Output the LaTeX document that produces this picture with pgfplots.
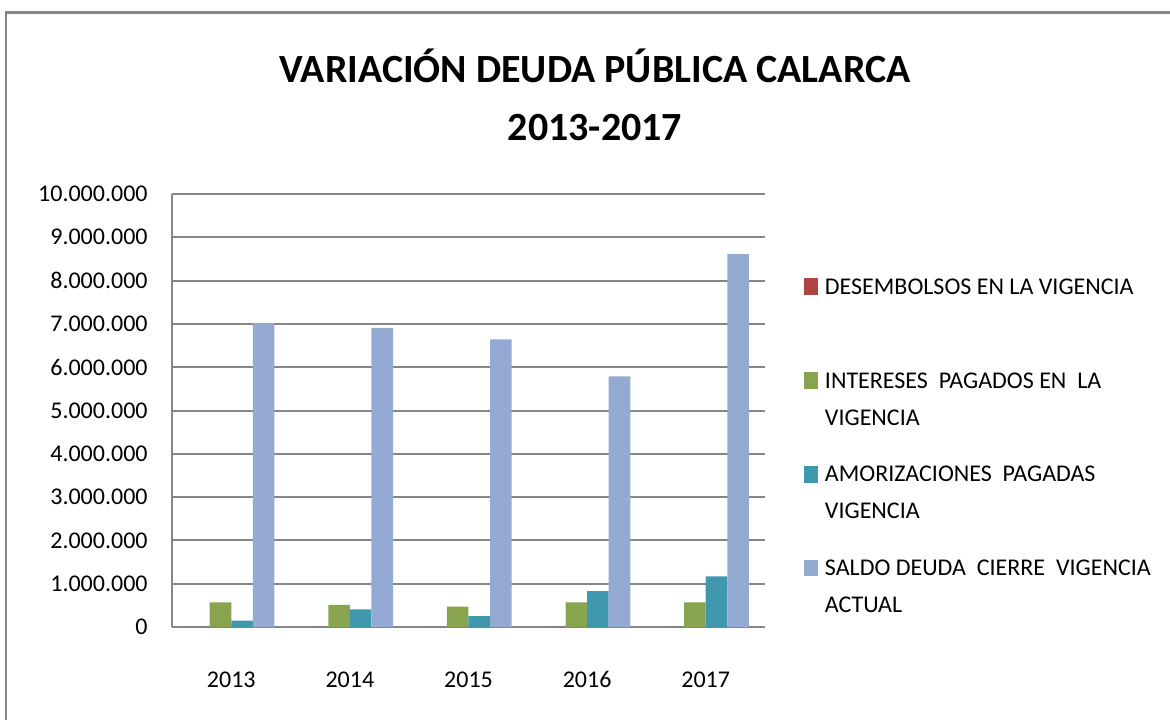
\documentclass[border=0pt]{standalone}
\usepackage{fontspec}
\setmainfont{Carlito}
\usepackage{pgfplots}
\pgfplotsset{compat=1.18}
\definecolor{cRed}{RGB}{176,68,64}
\definecolor{cGreen}{RGB}{137,164,78}
\definecolor{cTeal}{RGB}{64,152,175}
\definecolor{cBlue}{RGB}{149,170,210}
\definecolor{cGrid}{RGB}{134,134,134}
\begin{document}
\begin{tikzpicture}
\path[use as bounding box] (-86pt,-46pt) rectangle (499pt,313.5pt);
\draw[cGrid, line width=1.3pt] (-83pt,-60pt) -- (-83pt,307.25pt) -- (510pt,307.25pt);
\begin{axis}[
  at={(0pt,0pt)}, anchor=south west,
  scale only axis, width=296.5pt, height=216.5pt,
  ybar=0pt, bar width=0.182,
  xmin=-0.5, xmax=4.5, ymin=0, ymax=10000000,
  xtick=data, xticklabels={2013,2014,2015,2016,2017},
  ytick={0,1000000,2000000,3000000,4000000,5000000,6000000,7000000,8000000,9000000,10000000},
  scaled y ticks=false,
  y tick label style={/pgf/number format/fixed, /pgf/number format/precision=0, /pgf/number format/1000 sep={.}, /pgf/number format/assume math mode=true},
  tick label style={font=\fontsize{12}{14}\selectfont},
  yticklabel style={inner sep=0pt, anchor=east, xshift=-12pt},
  xticklabel style={inner sep=0pt, anchor=base, yshift=-30pt},
  major tick length=0pt,
  axis x line*=bottom, axis y line*=left,
  axis line style={cGrid, line width=1.2pt, -},
  ymajorgrids, grid style={cGrid, line width=1pt},
  title={VARIACIÓN DEUDA PÚBLICA CALARCA\\2013-2017},
  title style={at={(0.7133,1.2009)}, anchor=center, align=center, font=\fontsize{20}{29}\selectfont\bfseries, inner sep=0pt},
  legend image code/.code={\fill[#1] (0pt,-0.3pt) rectangle (7pt,8pt);},
  legend style={draw=none, fill=none, inner sep=0pt, outer sep=0pt, at={(1.0657,0.8285)}, anchor=north west, row sep=32.5pt, column sep=3.5pt, font=\fontsize{12}{18.5}\selectfont, nodes={inner sep=0pt}, cells={anchor=base west}},
]
\addplot[fill=cRed, draw=none] coordinates {(0,0) (1,0) (2,0) (3,0) (4,0)};
\addlegendentry{\begin{tabular}[t]{@{}l@{}}DESEMBOLSOS EN LA VIGENCIA\\ \mbox{}\end{tabular}}
\addplot[fill=cGreen, draw=none] coordinates {(0,570000) (1,510000) (2,470000) (3,570000) (4,570000)};
\addlegendentry{\begin{tabular}[t]{@{}l@{}}INTERESES \ PAGADOS EN \ LA\\ VIGENCIA\end{tabular}}
\addplot[fill=cTeal, draw=none] coordinates {(0,150000) (1,410000) (2,250000) (3,830000) (4,1170000)};
\addlegendentry{\begin{tabular}[t]{@{}l@{}}AMORIZACIONES \ PAGADAS\\ VIGENCIA\end{tabular}}
\addplot[fill=cBlue, draw=none] coordinates {(0,7020000) (1,6910000) (2,6640000) (3,5790000) (4,8610000)};
\addlegendentry{\begin{tabular}[t]{@{}l@{}}SALDO DEUDA \ CIERRE \ VIGENCIA\\ ACTUAL\end{tabular}}
\end{axis}
\end{tikzpicture}
\end{document}
